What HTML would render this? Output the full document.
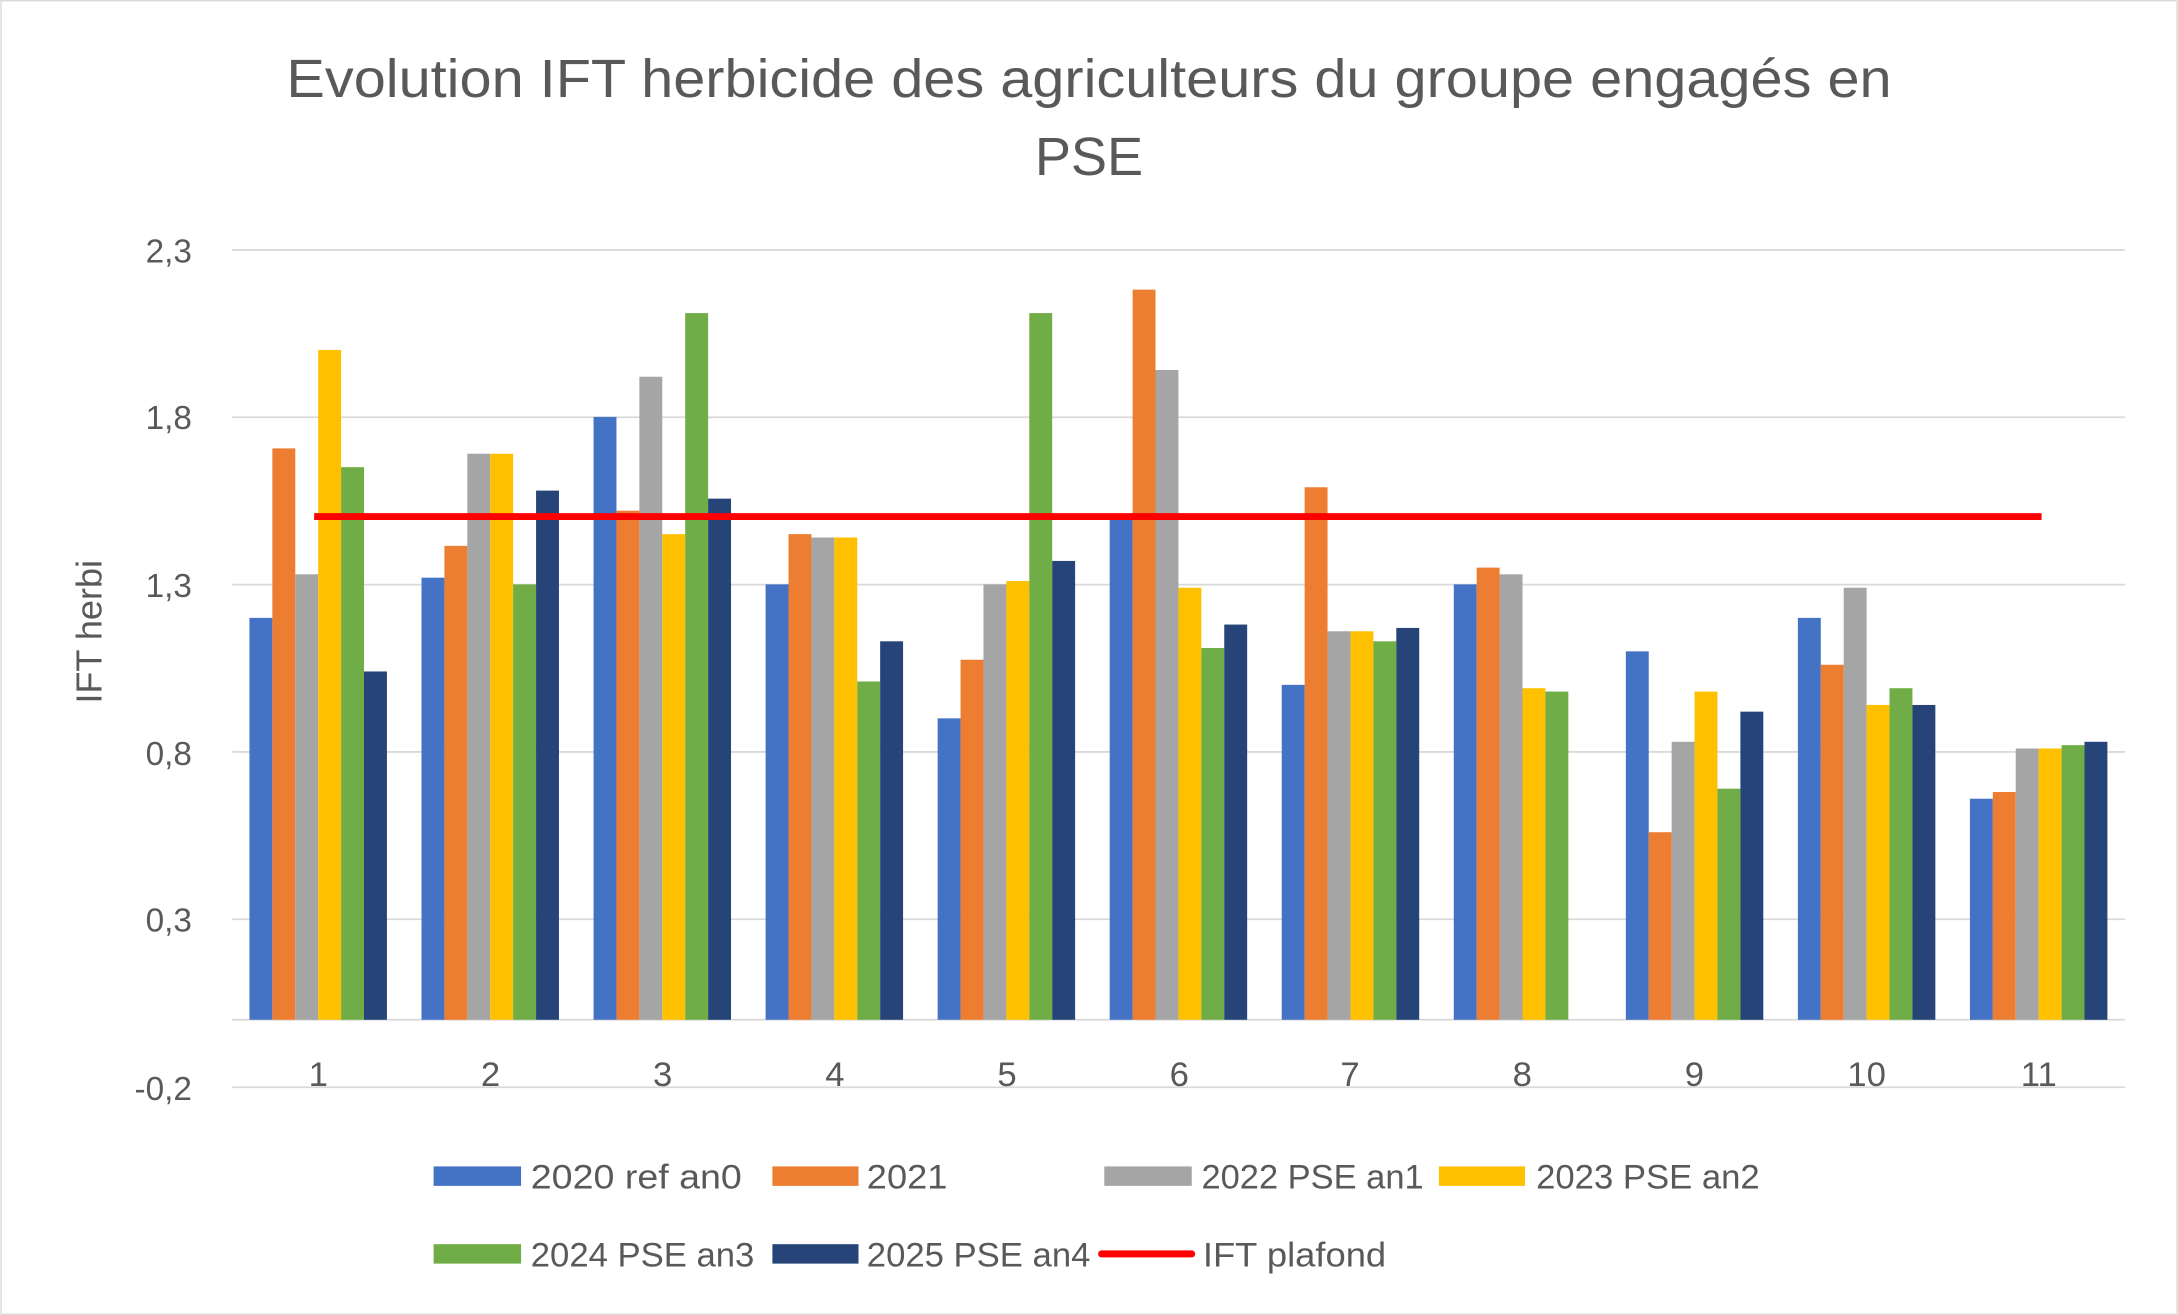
<!DOCTYPE html>
<html><head><meta charset="utf-8"><style>
html,body{margin:0;padding:0;background:#fff}
svg{display:block}
text{font-family:"Liberation Sans",sans-serif;fill:#595959}
</style></head><body>
<svg id="c" width="2178" height="1315" viewBox="0 0 1568 947" xmlns="http://www.w3.org/2000/svg">
<rect x="0.5" y="0.5" width="1567" height="946" fill="#fff" stroke="#d9d9d9"/>
<text x="206" y="70" font-size="39" textLength="1156" lengthAdjust="spacingAndGlyphs">Evolution IFT herbicide des agriculteurs du groupe engagés en</text>
<text x="784" y="126" font-size="39" text-anchor="middle">PSE</text>
<g stroke="#d9d9d9" stroke-width="1.3">
<line x1="167" x2="1530" y1="180" y2="180"/>
<line x1="167" x2="1530" y1="300.5" y2="300.5"/>
<line x1="167" x2="1530" y1="421" y2="421"/>
<line x1="167" x2="1530" y1="541.5" y2="541.5"/>
<line x1="167" x2="1530" y1="662" y2="662"/>
<line x1="167" x2="1530" y1="783" y2="783"/>
<line x1="167" x2="1530" y1="734.4" y2="734.4"/>
</g>
<g font-size="24" text-anchor="end">
<text x="138" y="189">2,3</text>
<text x="138" y="309">1,8</text>
<text x="138" y="430">1,3</text>
<text x="138" y="551">0,8</text>
<text x="138" y="671">0,3</text>
<text x="138" y="792">-0,2</text>
</g>
<text transform="translate(73,455) rotate(-90)" font-size="26" text-anchor="middle">IFT herbi</text>
<g id="bars"></g>
<line x1="226" x2="1470" y1="372" y2="372" stroke="#FF0000" stroke-width="5"/>
<g font-size="25" text-anchor="middle">
<text x="229" y="782">1</text><text x="353" y="782">2</text><text x="477" y="782">3</text><text x="601" y="782">4</text><text x="725" y="782">5</text><text x="849" y="782">6</text><text x="972" y="782">7</text><text x="1096" y="782">8</text><text x="1220" y="782">9</text><text x="1344" y="782">10</text><text x="1468" y="782">11</text>
</g>
<g font-size="25">
<rect x="312" y="840" width="63" height="14" fill="#4472C4"/><text x="382" y="856" textLength="152" lengthAdjust="spacingAndGlyphs">2020 ref an0</text>
<rect x="556" y="840" width="62" height="14" fill="#ED7D31"/><text x="624" y="856" textLength="58" lengthAdjust="spacingAndGlyphs">2021</text>
<rect x="795" y="840" width="63" height="14" fill="#A5A5A5"/><text x="865" y="856" textLength="160" lengthAdjust="spacingAndGlyphs">2022 PSE an1</text>
<rect x="1036" y="840" width="62" height="14" fill="#FFC000"/><text x="1106" y="856" textLength="161" lengthAdjust="spacingAndGlyphs">2023 PSE an2</text>
<rect x="312" y="896" width="63" height="14" fill="#70AD47"/><text x="382" y="912" textLength="161" lengthAdjust="spacingAndGlyphs">2024 PSE an3</text>
<rect x="556" y="896" width="62" height="14" fill="#264478"/><text x="624" y="912" textLength="161" lengthAdjust="spacingAndGlyphs">2025 PSE an4</text>
<line x1="793" x2="858" y1="903" y2="903" stroke="#FF0000" stroke-width="5" stroke-linecap="round"/><text x="866" y="912" textLength="132" lengthAdjust="spacingAndGlyphs">IFT plafond</text>
</g>
</svg>
<script>
var d=[[1.20,1.706,1.33,2.0,1.65,1.04],[1.32,1.415,1.69,1.69,1.30,1.58],[1.80,1.52,1.92,1.45,2.11,1.556],[1.30,1.45,1.44,1.44,1.01,1.13],[0.90,1.075,1.30,1.31,2.11,1.37],[1.50,2.18,1.94,1.29,1.11,1.18],[1.0,1.59,1.16,1.16,1.13,1.17],[1.30,1.35,1.33,0.99,0.98,0],[1.10,0.56,0.83,0.98,0.69,0.92],[1.20,1.06,1.29,0.94,0.99,0.94],[0.66,0.68,0.81,0.81,0.82,0.83]];
var c=["#4472C4","#ED7D31","#A5A5A5","#FFC000","#70AD47","#264478"];
var g=document.getElementById("bars"),ns="http://www.w3.org/2000/svg";
for(var i=0;i<11;i++)for(var j=0;j<6;j++){var v=d[i][j];if(!v)continue;var r=document.createElementNS(ns,"rect");var h=v*241.2;r.setAttribute("x",167+123.9*i+12.4+j*16.5);r.setAttribute("width",16.5);r.setAttribute("y",734.4-h);r.setAttribute("height",h);r.setAttribute("fill",c[j]);g.appendChild(r);}
</script>
</body></html>
